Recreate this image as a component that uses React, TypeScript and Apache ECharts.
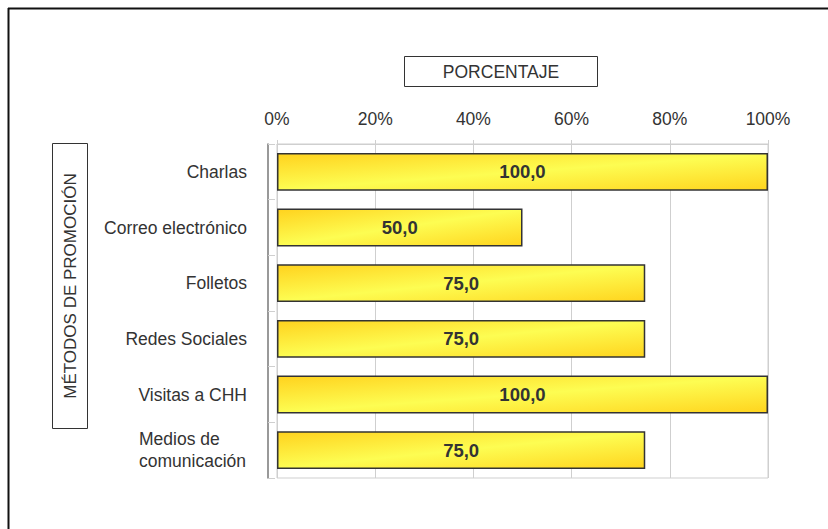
import React, { useEffect, useRef } from "react";
import * as echarts from "echarts";

const categories = [
  "Charlas",
  "Correo electrónico",
  "Folletos",
  "Redes Sociales",
  "Visitas a CHH",
  "Medios de comunicación",
];
const values = [100, 50, 75, 75, 100, 75];
const xTicks = [0, 20, 40, 60, 80, 100];
const xTitle = "PORCENTAJE";
const yTitle = "MÉTODOS DE PROMOCIÓN";

const FONT = "'Liberation Sans', Arial, sans-serif";

export default function App() {
  const ref = useRef<HTMLDivElement>(null);
  useEffect(() => {
    if (!ref.current) return;
    const chart = echarts.init(ref.current, undefined, { renderer: "svg" });
    chart.setOption({
      animation: false,
      backgroundColor: "#ffffff",
      textStyle: { fontFamily: FONT },
      grid: {
        left: 277,
        right: 60,
        top: 144,
        bottom: 51,
        show: true,
        borderColor: "#cfcfcf",
        borderWidth: 1,
        containLabel: false,
      },
      xAxis: {
        type: "value",
        position: "top",
        min: xTicks[0],
        max: xTicks[xTicks.length - 1],
        interval: 20,
        axisLine: { show: true, lineStyle: { color: "#cfcfcf", width: 1 } },
        axisTick: { show: true, length: 4, lineStyle: { color: "#cfcfcf" } },
        splitLine: { show: true, lineStyle: { color: "#cfcfcf", width: 1 } },
        axisLabel: {
          formatter: (v: number) => `${v}%`,
          fontSize: 17.5,
          color: "#333",
          margin: 16,
          fontFamily: FONT,
        },
      },
      yAxis: {
        type: "category",
        data: categories,
        inverse: true,
        offset: 9,
        axisLine: { show: true, onZero: false, lineStyle: { color: "#777", width: 1.5 } },
        axisTick: { show: true, inside: true, length: 7, lineStyle: { color: "#cfcfcf" } },
        axisLabel: {
          fontSize: 17.5,
          color: "#333",
          margin: 21,
          fontFamily: FONT,
          lineHeight: 22,
          formatter: (v: string) => {
            if (v === "Medios de comunicación") {
              return "{m|Medios de}\n{m|comunicación}";
            }
            return v;
          },
          rich: {
            m: {
              width: 108,
              align: "left",
              fontSize: 17.5,
              color: "#333",
              fontFamily: FONT,
              lineHeight: 22,
            },
          },
        },
      },
      series: [
        {
          type: "bar",
          data: values,
          barCategoryGap: "32%",
          itemStyle: {
            color: new echarts.graphic.LinearGradient(0, 0, 1, 1, [
              { offset: 0, color: "#ffd21e" },
              { offset: 0.5, color: "#fdfd52" },
              { offset: 1, color: "#ffd41e" },
            ]),
            borderColor: "#333",
            borderWidth: 1.5,
          },
          label: {
            show: true,
            position: "inside",
            formatter: (p: any) => p.value.toFixed(1).replace(".", ","),
            fontSize: 18.5,
            fontWeight: "bold",
            color: "#333",
            fontFamily: FONT,
          },
        },
      ],
      graphic: [
        {
          type: "line",
          shape: { x1: 8, y1: 8.5, x2: 828, y2: 8.5 },
          style: { stroke: "#111", lineWidth: 2 },
        },
        {
          type: "line",
          shape: { x1: 8.5, y1: 8, x2: 8.5, y2: 529 },
          style: { stroke: "#111", lineWidth: 2 },
        },
        {
          type: "rect",
          shape: { x: 404.5, y: 56.5, width: 193, height: 30 },
          style: { fill: "#fff", stroke: "#333", lineWidth: 1 },
        },
        {
          type: "text",
          x: 501,
          y: 71.5,
          style: {
            text: xTitle,
            fontSize: 17.5,
            fill: "#333",
            fontFamily: FONT,
            align: "center",
            verticalAlign: "middle",
          },
        },
        {
          type: "rect",
          shape: { x: 52.5, y: 143.5, width: 35, height: 285 },
          style: { fill: "#fff", stroke: "#333", lineWidth: 1 },
        },
        {
          type: "text",
          x: 70,
          y: 286,
          rotation: Math.PI / 2,
          style: {
            text: yTitle,
            fontSize: 17,
            fill: "#333",
            fontFamily: FONT,
            align: "center",
            verticalAlign: "middle",
          },
        },
      ],
    });
    return () => chart.dispose();
  }, []);
  return (
    <div
      ref={ref}
      style={{ position: "absolute", left: 0, top: 0, width: 828, height: 529 }}
    />
  );
}
